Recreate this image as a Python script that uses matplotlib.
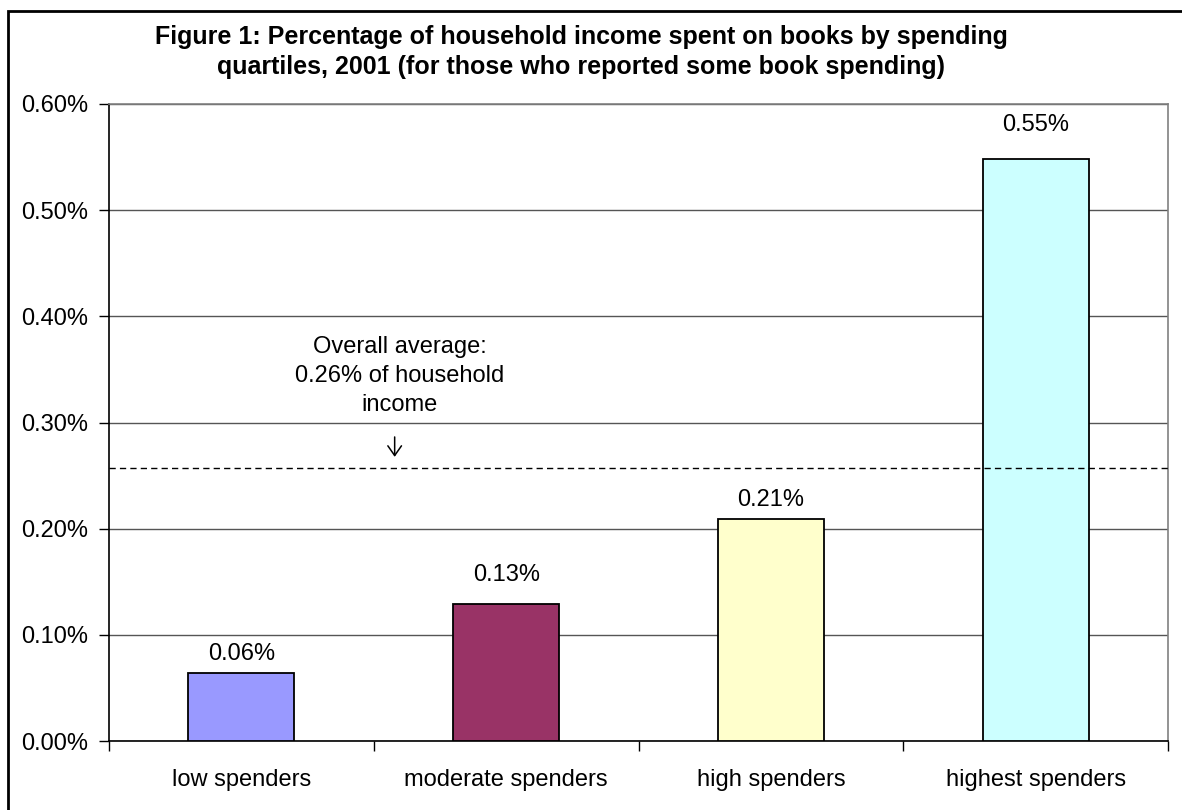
import numpy as np
import matplotlib
matplotlib.use('Agg')
import matplotlib.pyplot as plt
from matplotlib.patches import Rectangle

plt.rcParams['font.family'] = ['Liberation Sans', 'DejaVu Sans']

# ── data ─────────────────────────────────────────────────────
categories = ["low spenders", "moderate spenders", "high spenders", "highest spenders"]
shares     = [0.064, 0.129, 0.209, 0.548]          # % of household income
labels     = ["0.06%", "0.13%", "0.21%", "0.55%"]
colors     = ["#9999FF", "#993366", "#FFFFCC", "#CCFFFF"]
avg_share  = 0.257
avg_text   = "Overall average:\n0.26% of household\nincome"
y_ticks    = [0.0, 0.1, 0.2, 0.3, 0.4, 0.5, 0.6]
title      = ("Figure 1: Percentage of household income spent on books by spending\n"
              "quartiles, 2001 (for those who reported some book spending)")

FS = 17
label_pad = [6, 13, 6, 17]   # pt above bar top, as placed in the original

fig = plt.figure(figsize=(11.82, 8.10), dpi=100)
ax = fig.add_axes([109/1182, 1 - 741/810, (1168 - 109)/1182, (741 - 104)/810])

x = np.arange(len(categories))
ax.bar(x, shares, width=0.40, color=colors, edgecolor="black", linewidth=1.3, zorder=3)

for xi, v, lab, pad in zip(x, shares, labels, label_pad):
    ax.annotate(lab, (xi, v), xytext=(0, pad), textcoords="offset points",
                ha="center", va="bottom", fontsize=FS)

# average line + note
ax.axhline(avg_share, color="black", linewidth=1.0, dashes=(4.5, 3), zorder=4)
ax.text(0.598, 0.3438, avg_text, ha="center", va="center", fontsize=FS,
        linespacing=1.4)
ax.annotate("", xy=(0.579, 0.2650), xytext=(0.579, 0.289),
            arrowprops=dict(arrowstyle="->, head_width=0.35, head_length=0.5",
                            color="black", lw=1.1, mutation_scale=14))

# axes
ax.set_xlim(-0.5, len(categories) - 0.5)
ax.set_ylim(0, 0.6)
ax.set_yticks(y_ticks)
ax.set_yticklabels([f"{t:.2f}%" for t in y_ticks], fontsize=FS)
ax.yaxis.grid(True, color="#555555", linewidth=1.0, zorder=0)

ax.set_xticks(np.arange(len(categories) + 1) - 0.5)
ax.set_xticklabels([])
ax.set_xticks(x, minor=True)
ax.set_xticklabels(categories, minor=True, fontsize=FS)
ax.tick_params(axis="x", which="minor", length=0, pad=20)
ax.tick_params(axis="both", which="major", length=7, width=1.0, direction="out")
ax.tick_params(axis="y", pad=8)

for side in ["left", "bottom"]:
    ax.spines[side].set_color("black")
    ax.spines[side].set_linewidth(1.2)
for side in ["right", "top"]:
    ax.spines[side].set_color("#808080")
    ax.spines[side].set_linewidth(1.2)

fig.text(581/1182, 1 - 52/810, title, ha="center", va="center",
         fontsize=18, fontweight="bold", linespacing=1.3)

# outer chart frame (cut off at right and bottom)
fig.patches.append(Rectangle((8/1182, -0.2), 1.2, 1.2 - 11/810,
                             transform=fig.transFigure, fill=False,
                             edgecolor="black", linewidth=2.0, clip_on=False))

plt.savefig("out.png", dpi=100)
